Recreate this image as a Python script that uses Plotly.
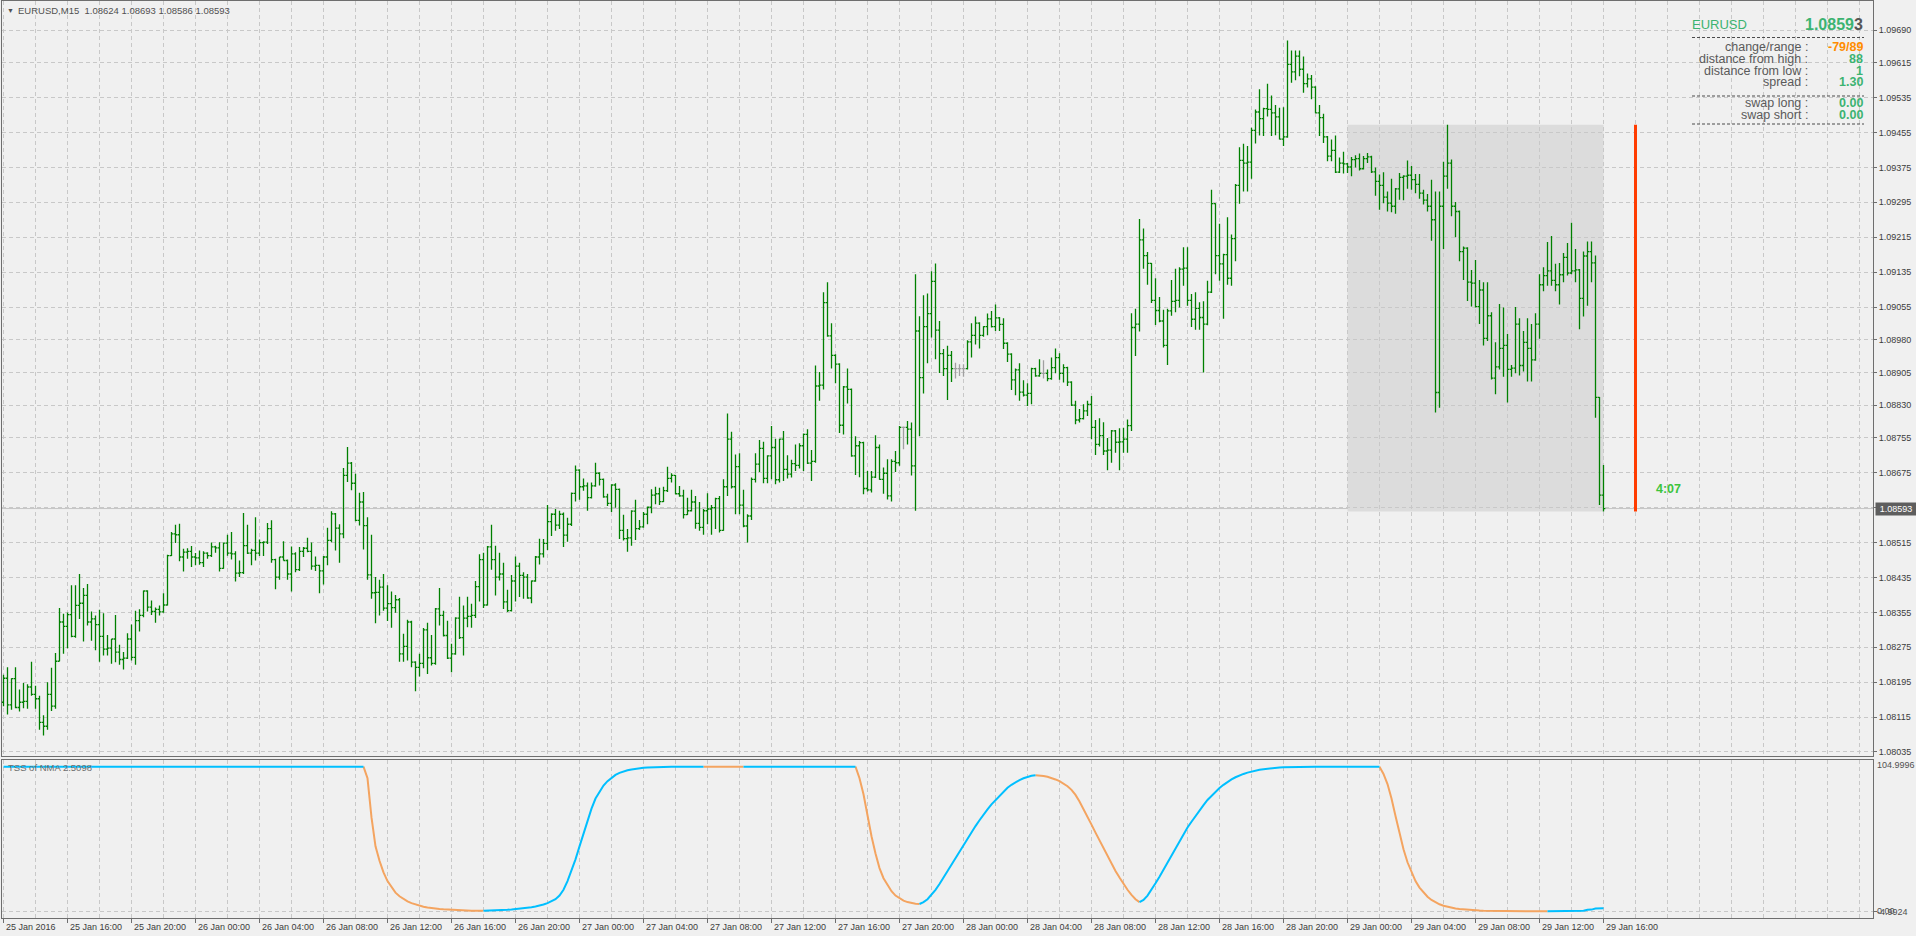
import plotly.graph_objects as go

# ---------------- data ----------------
symbol = "EURUSD"
timeframe = "M15"

bar_open = [
1.08149,1.08204,1.08143,1.08203,1.08137,1.08149,1.08151,1.08184,1.08167,1.08157,
1.08103,1.08094,1.08167,1.08140,1.08243,1.08333,1.08323,1.08350,1.08300,1.08371,
1.08376,1.08394,1.08333,1.08340,1.08327,1.08300,1.08271,1.08273,1.08294,1.08264,
1.08247,1.08250,1.08294,1.08252,1.08336,1.08348,1.08404,1.08367,1.08357,1.08362,
1.08356,1.08372,1.08485,1.08535,1.08533,1.08482,1.08493,1.08495,1.08482,1.08480,
1.08469,1.08491,1.08485,1.08505,1.08503,1.08456,1.08514,1.08491,1.08489,1.08445,
1.08446,1.08508,1.08491,1.08497,1.08491,1.08515,1.08516,1.08547,1.08476,1.08436,
1.08482,1.08474,1.08443,1.08489,1.08453,1.08495,1.08502,1.08495,1.08461,1.08463,
1.08450,1.08482,1.08520,1.08581,1.08548,1.08535,1.08669,1.08697,1.08651,1.08566,
1.08608,1.08554,1.08441,1.08400,1.08401,1.08413,1.08365,1.08375,1.08366,1.08384,
1.08260,1.08277,1.08333,1.08241,1.08229,1.08238,1.08315,1.08251,1.08238,1.08363,
1.08348,1.08302,1.08250,1.08260,1.08342,1.08297,1.08342,1.08346,1.08348,1.08414,
1.08476,1.08372,1.08505,1.08476,1.08436,1.08443,1.08379,1.08359,1.08427,1.08461,
1.08440,1.08436,1.08388,1.08427,1.08482,1.08489,1.08513,1.08563,1.08580,1.08555,
1.08580,1.08532,1.08557,1.08628,1.08681,1.08643,1.08645,1.08618,1.08645,1.08674,
1.08660,1.08620,1.08605,1.08647,1.08637,1.08543,1.08524,1.08526,1.08587,1.08547,
1.08551,1.08580,1.08596,1.08624,1.08627,1.08609,1.08634,1.08662,1.08669,1.08627,
1.08622,1.08579,1.08588,1.08608,1.08559,1.08550,1.08588,1.08592,1.08595,1.08616,
1.08543,1.08643,1.08752,1.08643,1.08689,1.08601,1.08553,1.08576,1.08660,1.08695,
1.08731,1.08662,1.08714,1.08733,1.08659,1.08752,1.08683,1.08672,1.08696,1.08692,
1.08737,1.08763,1.08697,1.08701,1.08874,1.08876,1.09065,1.08989,1.08944,1.08924,
1.08784,1.08872,1.08866,1.08714,1.08737,1.08744,1.08639,1.08636,1.08665,1.08733,
1.08660,1.08674,1.08622,1.08701,1.08698,1.08779,1.08779,1.08775,1.08691,1.09000,
1.08893,1.09010,1.09040,1.09114,1.09002,1.08948,1.08914,1.08944,1.08914,1.08914,
1.08914,1.08914,1.08975,1.08990,1.09018,1.08990,1.09010,1.09028,1.09010,1.09030,
1.09015,1.08972,1.08947,1.08888,1.08911,1.08860,1.08853,1.08857,1.08914,1.08897,
1.08903,1.08903,1.08891,1.08916,1.08939,1.08903,1.08916,1.08883,1.08830,1.08796,
1.08799,1.08817,1.08832,1.08779,1.08740,1.08760,1.08725,1.08727,1.08771,1.08745,
1.08746,1.08752,1.08783,1.09008,1.09016,1.09209,1.09173,1.09155,1.09070,1.09047,
1.09023,1.08967,1.09046,1.09068,1.09070,1.09142,1.09144,1.09070,1.09027,1.09052,
1.09031,1.09016,1.09089,1.09292,1.09173,1.09154,1.09175,1.09121,1.09212,1.09334,
1.09391,1.09385,1.09387,1.09460,1.09502,1.09487,1.09510,1.09508,1.09500,1.09491,
1.09440,1.09445,1.09611,1.09594,1.09630,1.09600,1.09567,1.09578,1.09559,1.09500,
1.09489,1.09445,1.09401,1.09414,1.09364,1.09385,1.09383,1.09376,1.09393,1.09395,
1.09372,1.09395,1.09399,1.09365,1.09343,1.09334,1.09307,1.09293,1.09286,1.09326,
1.09352,1.09355,1.09357,1.09347,1.09336,1.09316,1.09300,1.09286,1.09255,1.08859,
1.09286,1.09355,1.09385,1.09286,1.09274,1.09182,1.09190,1.09112,1.09110,1.09056,
1.09094,1.08983,1.09035,1.08892,1.08918,1.08960,1.08967,1.08912,1.08915,1.09016,
1.08921,1.08974,1.08960,1.08934,1.09016,1.09106,1.09127,1.09138,1.09116,1.09106,
1.09129,1.09169,1.09133,1.09138,1.09140,1.09075,1.09172,1.09182,1.09156,1.08848,
1.08624]

bar_high = [
1.08212,1.08229,1.08204,1.08229,1.08178,1.08193,1.08190,1.08242,1.08187,1.08164,
1.08119,1.08195,1.08228,1.08262,1.08365,1.08352,1.08355,1.08417,1.08417,1.08443,
1.08411,1.08420,1.08357,1.08348,1.08361,1.08353,1.08303,1.08294,1.08349,1.08281,
1.08264,1.08307,1.08327,1.08359,1.08362,1.08405,1.08406,1.08382,1.08366,1.08371,
1.08399,1.08487,1.08539,1.08556,1.08558,1.08501,1.08502,1.08507,1.08491,1.08497,
1.08495,1.08493,1.08515,1.08508,1.08516,1.08515,1.08533,1.08539,1.08495,1.08474,
1.08583,1.08556,1.08501,1.08573,1.08522,1.08518,1.08560,1.08566,1.08478,1.08482,
1.08518,1.08476,1.08506,1.08493,1.08505,1.08505,1.08526,1.08515,1.08483,1.08464,
1.08484,1.08549,1.08587,1.08583,1.08557,1.08686,1.08734,1.08700,1.08673,1.08629,
1.08631,1.08573,1.08533,1.08436,1.08430,1.08443,1.08417,1.08403,1.08395,1.08388,
1.08306,1.08338,1.08336,1.08243,1.08260,1.08319,1.08331,1.08303,1.08365,1.08411,
1.08359,1.08336,1.08283,1.08344,1.08391,1.08371,1.08391,1.08375,1.08427,1.08488,
1.08492,1.08507,1.08556,1.08508,1.08492,1.08469,1.08407,1.08441,1.08483,1.08469,
1.08447,1.08443,1.08428,1.08484,1.08524,1.08523,1.08601,1.08582,1.08592,1.08588,
1.08584,1.08572,1.08630,1.08692,1.08683,1.08662,1.08653,1.08653,1.08698,1.08676,
1.08662,1.08627,1.08649,1.08651,1.08639,1.08579,1.08546,1.08589,1.08613,1.08567,
1.08585,1.08598,1.08637,1.08643,1.08641,1.08643,1.08689,1.08674,1.08670,1.08645,
1.08636,1.08618,1.08636,1.08622,1.08608,1.08592,1.08628,1.08601,1.08618,1.08622,
1.08660,1.08811,1.08769,1.08717,1.08720,1.08636,1.08580,1.08664,1.08720,1.08750,
1.08746,1.08715,1.08782,1.08753,1.08753,1.08771,1.08715,1.08705,1.08740,1.08743,
1.08765,1.08775,1.08727,1.08921,1.08906,1.09089,1.09112,1.09018,1.08947,1.08926,
1.08874,1.08914,1.08868,1.08759,1.08748,1.08746,1.08679,1.08679,1.08761,1.08740,
1.08687,1.08706,1.08706,1.08725,1.08782,1.08781,1.08794,1.08790,1.09130,1.09034,
1.09082,1.09086,1.09137,1.09155,1.09023,1.08959,1.08966,1.08954,1.08927,1.08924,
1.08924,1.08979,1.09018,1.09033,1.09020,1.09011,1.09040,1.09046,1.09061,1.09032,
1.09029,1.08974,1.08949,1.08914,1.08926,1.08887,1.08880,1.08916,1.08916,1.08935,
1.08933,1.08912,1.08939,1.08960,1.08949,1.08924,1.08918,1.08885,1.08840,1.08821,
1.08832,1.08840,1.08851,1.08796,1.08800,1.08791,1.08755,1.08773,1.08773,1.08777,
1.08778,1.08797,1.09041,1.09051,1.09257,1.09235,1.09181,1.09156,1.09121,1.09078,
1.09049,1.09051,1.09117,1.09143,1.09146,1.09192,1.09192,1.09085,1.09089,1.09066,
1.09068,1.09115,1.09324,1.09293,1.09246,1.09177,1.09261,1.09221,1.09337,1.09421,
1.09429,1.09424,1.09466,1.09508,1.09554,1.09512,1.09567,1.09540,1.09518,1.09512,
1.09513,1.09666,1.09643,1.09643,1.09643,1.09629,1.09590,1.09587,1.09561,1.09518,
1.09498,1.09447,1.09439,1.09448,1.09398,1.09411,1.09385,1.09399,1.09403,1.09407,
1.09401,1.09408,1.09402,1.09375,1.09359,1.09364,1.09320,1.09349,1.09328,1.09362,
1.09357,1.09391,1.09378,1.09360,1.09360,1.09324,1.09314,1.09347,1.09320,1.09320,
1.09388,1.09473,1.09393,1.09296,1.09276,1.09194,1.09192,1.09140,1.09163,1.09117,
1.09112,1.09112,1.09043,1.08974,1.09062,1.09054,1.08993,1.08922,1.09055,1.09029,
1.09000,1.09029,1.09016,1.09041,1.09130,1.09146,1.09204,1.09218,1.09154,1.09156,
1.09179,1.09202,1.09248,1.09188,1.09142,1.09182,1.09205,1.09205,1.09173,1.08849,
1.08693]

bar_low = [
1.08140,1.08121,1.08132,1.08135,1.08128,1.08135,1.08134,1.08164,1.08134,1.08086,
1.08073,1.08086,1.08129,1.08134,1.08243,1.08260,1.08273,1.08298,1.08297,1.08340,
1.08288,1.08325,1.08290,1.08268,1.08242,1.08256,1.08256,1.08237,1.08241,1.08235,
1.08224,1.08248,1.08245,1.08235,1.08311,1.08344,1.08357,1.08349,1.08331,1.08348,
1.08354,1.08371,1.08484,1.08514,1.08472,1.08449,1.08478,1.08459,1.08463,1.08464,
1.08459,1.08478,1.08482,1.08492,1.08449,1.08455,1.08485,1.08476,1.08426,1.08436,
1.08443,1.08489,1.08463,1.08474,1.08484,1.08484,1.08512,1.08469,1.08408,1.08430,
1.08474,1.08430,1.08403,1.08447,1.08450,1.08482,1.08493,1.08453,1.08450,1.08399,
1.08419,1.08463,1.08516,1.08497,1.08469,1.08525,1.08654,1.08635,1.08564,1.08554,
1.08499,1.08430,1.08386,1.08330,1.08348,1.08359,1.08335,1.08320,1.08354,1.08242,
1.08242,1.08245,1.08229,1.08174,1.08208,1.08227,1.08214,1.08233,1.08235,1.08325,
1.08300,1.08248,1.08218,1.08258,1.08294,1.08256,1.08321,1.08320,1.08342,1.08380,
1.08365,1.08371,1.08453,1.08394,1.08428,1.08363,1.08356,1.08357,1.08380,1.08390,
1.08386,1.08386,1.08376,1.08425,1.08465,1.08481,1.08498,1.08530,1.08542,1.08546,
1.08505,1.08517,1.08553,1.08609,1.08613,1.08634,1.08588,1.08616,1.08643,1.08646,
1.08618,1.08599,1.08585,1.08595,1.08523,1.08520,1.08494,1.08508,1.08521,1.08544,
1.08549,1.08557,1.08582,1.08603,1.08601,1.08608,1.08631,1.08653,1.08626,1.08620,
1.08570,1.08578,1.08586,1.08547,1.08542,1.08533,1.08557,1.08533,1.08546,1.08538,
1.08542,1.08622,1.08639,1.08580,1.08580,1.08550,1.08515,1.08567,1.08653,1.08677,
1.08651,1.08651,1.08660,1.08649,1.08653,1.08656,1.08662,1.08664,1.08679,1.08685,
1.08679,1.08695,1.08656,1.08698,1.08840,1.08866,1.08987,1.08914,1.08880,1.08766,
1.08763,1.08834,1.08712,1.08670,1.08665,1.08626,1.08632,1.08630,1.08663,1.08659,
1.08627,1.08614,1.08609,1.08677,1.08691,1.08729,1.08740,1.08669,1.08588,1.08759,
1.08857,1.08926,1.08985,1.08935,1.08904,1.08897,1.08842,1.08883,1.08891,1.08897,
1.08895,1.08912,1.08939,1.08969,1.08960,1.08987,1.08990,1.09008,1.09000,1.09000,
1.08959,1.08929,1.08865,1.08853,1.08840,1.08850,1.08828,1.08832,1.08895,1.08895,
1.08891,1.08885,1.08888,1.08903,1.08888,1.08882,1.08874,1.08828,1.08786,1.08790,
1.08797,1.08805,1.08752,1.08716,1.08735,1.08716,1.08681,1.08698,1.08721,1.08681,
1.08721,1.08721,1.08771,1.08943,1.08999,1.09143,1.09106,1.09064,1.09014,1.09020,
1.08962,1.08922,1.09035,1.09043,1.09054,1.09104,1.09058,1.09009,1.09003,1.09003,
1.08905,1.09013,1.09087,1.09130,1.09115,1.09028,1.09106,1.09104,1.09160,1.09292,
1.09320,1.09320,1.09349,1.09430,1.09448,1.09447,1.09492,1.09447,1.09449,1.09439,
1.09424,1.09443,1.09569,1.09575,1.09584,1.09546,1.09558,1.09531,1.09499,1.09447,
1.09431,1.09389,1.09389,1.09362,1.09362,1.09361,1.09362,1.09355,1.09375,1.09368,
1.09370,1.09385,1.09362,1.09310,1.09278,1.09293,1.09274,1.09272,1.09269,1.09301,
1.09300,1.09326,1.09324,1.09316,1.09303,1.09290,1.09274,1.09207,1.08813,1.08824,
1.09188,1.09326,1.09263,1.09215,1.09160,1.09117,1.09069,1.09056,1.09054,1.09016,
1.08967,1.08977,1.08889,1.08855,1.08912,1.08895,1.08836,1.08895,1.08903,1.08898,
1.08907,1.08884,1.08884,1.08932,1.08982,1.09091,1.09104,1.09104,1.09091,1.09061,
1.09112,1.09127,1.09130,1.09112,1.09004,1.09033,1.09058,1.09112,1.08801,1.08601,
1.08586]

bar_close = [
1.08204,1.08143,1.08203,1.08137,1.08149,1.08151,1.08184,1.08167,1.08157,1.08103,
1.08094,1.08167,1.08140,1.08243,1.08333,1.08323,1.08350,1.08300,1.08371,1.08376,
1.08394,1.08333,1.08340,1.08327,1.08300,1.08271,1.08273,1.08294,1.08264,1.08247,
1.08250,1.08294,1.08252,1.08336,1.08348,1.08404,1.08367,1.08357,1.08362,1.08356,
1.08372,1.08485,1.08535,1.08533,1.08482,1.08493,1.08495,1.08482,1.08480,1.08469,
1.08491,1.08485,1.08505,1.08503,1.08456,1.08514,1.08491,1.08489,1.08445,1.08446,
1.08508,1.08491,1.08497,1.08491,1.08515,1.08516,1.08547,1.08476,1.08436,1.08482,
1.08474,1.08443,1.08489,1.08453,1.08495,1.08502,1.08495,1.08461,1.08463,1.08450,
1.08482,1.08520,1.08581,1.08548,1.08535,1.08669,1.08697,1.08651,1.08566,1.08608,
1.08554,1.08441,1.08400,1.08401,1.08413,1.08365,1.08375,1.08366,1.08384,1.08260,
1.08277,1.08333,1.08241,1.08229,1.08238,1.08315,1.08251,1.08238,1.08363,1.08348,
1.08302,1.08250,1.08260,1.08342,1.08297,1.08342,1.08346,1.08348,1.08414,1.08476,
1.08372,1.08505,1.08476,1.08436,1.08443,1.08379,1.08359,1.08427,1.08461,1.08440,
1.08436,1.08388,1.08427,1.08482,1.08489,1.08513,1.08563,1.08580,1.08555,1.08580,
1.08532,1.08557,1.08628,1.08681,1.08643,1.08645,1.08618,1.08645,1.08674,1.08660,
1.08620,1.08605,1.08647,1.08637,1.08543,1.08524,1.08526,1.08587,1.08547,1.08551,
1.08580,1.08596,1.08624,1.08627,1.08609,1.08634,1.08662,1.08669,1.08627,1.08622,
1.08579,1.08588,1.08608,1.08559,1.08550,1.08588,1.08592,1.08595,1.08616,1.08543,
1.08643,1.08752,1.08643,1.08689,1.08601,1.08553,1.08576,1.08660,1.08695,1.08731,
1.08662,1.08714,1.08733,1.08659,1.08752,1.08683,1.08672,1.08696,1.08692,1.08737,
1.08763,1.08697,1.08701,1.08874,1.08876,1.09065,1.08989,1.08944,1.08924,1.08784,
1.08872,1.08866,1.08714,1.08737,1.08744,1.08639,1.08636,1.08665,1.08733,1.08660,
1.08674,1.08622,1.08701,1.08698,1.08779,1.08779,1.08775,1.08691,1.09000,1.08893,
1.09010,1.09040,1.09114,1.09002,1.08948,1.08914,1.08944,1.08914,1.08914,1.08914,
1.08914,1.08975,1.08990,1.09018,1.08990,1.09010,1.09028,1.09010,1.09030,1.09015,
1.08972,1.08947,1.08888,1.08911,1.08860,1.08853,1.08857,1.08914,1.08897,1.08903,
1.08903,1.08891,1.08916,1.08939,1.08903,1.08916,1.08883,1.08830,1.08796,1.08799,
1.08817,1.08832,1.08779,1.08740,1.08760,1.08725,1.08727,1.08771,1.08745,1.08746,
1.08752,1.08783,1.09008,1.09016,1.09209,1.09173,1.09155,1.09070,1.09047,1.09023,
1.08967,1.09046,1.09068,1.09070,1.09142,1.09144,1.09070,1.09027,1.09052,1.09031,
1.09016,1.09089,1.09292,1.09173,1.09154,1.09175,1.09121,1.09212,1.09334,1.09391,
1.09385,1.09387,1.09460,1.09502,1.09487,1.09510,1.09508,1.09500,1.09491,1.09440,
1.09445,1.09611,1.09594,1.09630,1.09600,1.09567,1.09578,1.09559,1.09500,1.09489,
1.09445,1.09401,1.09414,1.09364,1.09385,1.09383,1.09376,1.09393,1.09395,1.09372,
1.09395,1.09399,1.09365,1.09343,1.09334,1.09307,1.09293,1.09286,1.09326,1.09352,
1.09355,1.09357,1.09347,1.09336,1.09316,1.09300,1.09286,1.09255,1.08859,1.09286,
1.09355,1.09385,1.09286,1.09274,1.09182,1.09190,1.09112,1.09110,1.09056,1.09094,
1.08983,1.09035,1.08892,1.08918,1.08960,1.08967,1.08912,1.08915,1.09016,1.08921,
1.08974,1.08960,1.08934,1.09016,1.09106,1.09127,1.09138,1.09116,1.09106,1.09129,
1.09169,1.09133,1.09138,1.09140,1.09075,1.09172,1.09182,1.09156,1.08848,1.08624,
1.08593]

# TSS of NMA indicator value per bar
tss_values = [
100,100,100,100,100,100,100,100,100,100,
100,100,100,100,100,100,100,100,100,100,
100,100,100,100,100,100,100,100,100,100,
100,100,100,100,100,100,100,100,100,100,
100,100,100,100,100,100,100,100,100,100,
100,100,100,100,100,100,100,100,100,100,
100,100,100,100,100,100,100,100,100,100,
100,100,100,100,100,100,100,100,100,100,
100,100,100,100,100,100,100,100,100,100,
100,92,65,45,35,27,21,17,13,10.5,
8.5,7,5.8,4.8,4,3.3,2.8,2.3,2.0,1.7,
1.5,1.3,1.15,1.0,0.9,0.8,0.7,0.6,0.55,0.5,
0.45,0.5,0.6,0.7,0.8,1.0,1.2,1.4,1.6,1.9,
2.2,2.5,2.9,3.4,4.0,4.8,5.8,7.0,8.5,11,
15,21,28,36,45,54,63,71,78,83,
87,90,92.5,94.3,95.7,96.7,97.5,98.1,98.6,98.95,
99.2,99.4,99.55,99.65,99.75,99.8,99.85,99.9,99.93,99.95,
99.97,99.98,99.99,99.995,100,100,99.99,99.98,99.97,99.96,
99.95,99.94,99.93,99.92,99.91,99.9,99.92,99.94,99.96,99.98,
99.99,100,100,100,100,100,100,100,100,100,
100,100,100,100,100,100,100,100,100,100,
100,100,100,100,92,81,66,52,40,30,
23,18,14,11,9,7.5,6.5,5.8,5.4,5.2,
6.5,8.5,11.5,15,19,23.5,28,32.5,37,41.5,
46,50.5,55,59,63,67,70.5,74,77,80,
83,85.5,87.5,89.3,90.8,92,93,93.7,94.1,94.0,
93.6,93.0,92.2,91.2,90.0,88.5,86.5,84,80.5,76,
71,65.5,60,54.5,49,43.5,38,33,28,23.5,
19,15,11.5,8.5,6.5,8,11,15,19.5,24,
29,34,39,44,49,53.5,58,62,66,70,
73.5,77,80,82.8,85.3,87.5,89.5,91.2,92.7,94,
95,95.9,96.7,97.3,97.9,98.3,98.7,99.0,99.25,99.45,
99.6,99.7,99.8,99.85,99.9,99.93,99.95,99.97,99.98,99.99,
100,100,100,100,100,100,100,100,100,100,
100,100,100,100,100,95,88,78,66,54,
43,34,27,21,16.5,13,10.2,8,6.3,5,
4,3.2,2.6,2.1,1.7,1.4,1.15,0.95,0.8,0.68,
0.58,0.5,0.44,0.39,0.35,0.32,0.29,0.27,0.25,0.23,
0.21,0.2,0.19,0.18,0.17,0.16,0.15,0.2,0.25,0.3,
0.35,0.4,0.45,0.5,0.55,0.6,1.2,1.3,2.0,2.1,
2.2]

price_ticks = [1.09690, 1.09615, 1.09535, 1.09455, 1.09375, 1.09295, 1.09215, 1.09135,
               1.09055, 1.08980, 1.08905, 1.08830, 1.08755, 1.08675, 1.08595, 1.08515,
               1.08435, 1.08355, 1.08275, 1.08195, 1.08115, 1.08035]
hidden_tick = 1.08595  # covered by the bid label

time_labels = ["25 Jan 2016", "25 Jan 16:00", "25 Jan 20:00", "26 Jan 00:00", "26 Jan 04:00",
               "26 Jan 08:00", "26 Jan 12:00", "26 Jan 16:00", "26 Jan 20:00", "27 Jan 00:00",
               "27 Jan 04:00", "27 Jan 08:00", "27 Jan 12:00", "27 Jan 16:00", "27 Jan 20:00",
               "28 Jan 00:00", "28 Jan 04:00", "28 Jan 08:00", "28 Jan 12:00", "28 Jan 16:00",
               "28 Jan 20:00", "29 Jan 00:00", "29 Jan 04:00", "29 Jan 08:00", "29 Jan 12:00",
               "29 Jan 16:00"]
bars_per_label = 16
bars_per_grid = 8

bid = 1.08593
day_high = 1.09473
day_low = 1.08586
day_start_bar = 336
timer_bar = 408
timer_text = "4:07"

info_labels = ["change/range", "distance from high", "distance from low", "spread"]
info_values = ["-79/89", "88", "1", "1.30"]
swap_labels = ["swap long", "swap short"]
swap_values = ["0.00", "0.00"]

indicator_name = "TSS of NMA 2.5098"
indicator_top_label = "104.9996"
indicator_level_label = "0.00"
indicator_bottom_label = "-4.9924"

# ---------------- styling / layout ----------------
FONT = "Liberation Sans"
BG = "#f0f0f0"
GRID = "#c8c8c8"
BORDER = "#6e6e6e"
AXTXT = "#3c3c3c"
BAR_GREEN = "#008000"
DOJI_GRAY = "#a0a0a0"
BLUE = "#00bfff"
ORANGE = "#f4a460"
SEAGREEN = "#3cb371"
DASH = "4px,3px"

W, H = 1916, 936
ML, MR, MT, MB = 2, 43, 1, 18
PW, PH = W - ML - MR, H - MT - MB


def fx(px):
    return (px - ML) / PW


def fy(py):
    return (H - MB - py) / PH


# price <-> pixel calibration of the main pane (1.09690 at y=30, 43625 px per unit)
PX_PER_UNIT = 43625.0
y_top = 1.09690 + (30 - MT) / PX_PER_UNIT
y_bot = 1.09690 - (756 - 30) / PX_PER_UNIT
x_lo = -0.375
x_hi = x_lo + PW / 4.0

n = len(bar_close)
idx = list(range(n))
is_doji = [bar_open[i] == bar_close[i] for i in idx]

fig = go.Figure()


def ohlc_trace(ids, color):
    return go.Ohlc(
        x=ids,
        open=[bar_open[i] for i in ids], high=[bar_high[i] for i in ids],
        low=[bar_low[i] for i in ids], close=[bar_close[i] for i in ids],
        increasing=dict(line=dict(color=color, width=1.3)),
        decreasing=dict(line=dict(color=color, width=1.3)),
        tickwidth=0.45, hoverinfo="skip", showlegend=False, xaxis="x", yaxis="y")


fig.add_trace(ohlc_trace([i for i in idx if not is_doji[i]], BAR_GREEN))
fig.add_trace(ohlc_trace([i for i in idx if is_doji[i]], DOJI_GRAY))


def seg_xy(want_down):
    xs, ys = [], []
    prev = False
    for i in range(1, len(tss_values)):
        down = tss_values[i] < tss_values[i - 1]
        if down == want_down:
            if not prev:
                if xs:
                    xs.append(None)
                    ys.append(None)
                xs.append(i - 1)
                ys.append(tss_values[i - 1])
            xs.append(i)
            ys.append(tss_values[i])
            prev = True
        else:
            prev = False
    return xs, ys


for down, col in ((True, ORANGE), (False, BLUE)):
    sx, sy = seg_xy(down)
    fig.add_trace(go.Scatter(x=sx, y=sy, mode="lines", line=dict(color=col, width=2),
                             hoverinfo="skip", showlegend=False, xaxis="x2", yaxis="y2",
                             connectgaps=False))

grid_common = dict(gridcolor=GRID, griddash=DASH, gridwidth=1)

fig.update_layout(
    width=W, height=H,
    margin=dict(l=ML, r=MR, t=MT, b=MB, pad=0),
    paper_bgcolor=BG, plot_bgcolor=BG,
    font=dict(family=FONT, size=9, color=AXTXT),
    showlegend=False,
    xaxis=dict(domain=[0, 1], anchor="y", range=[x_lo, x_hi], tickmode="linear", tick0=0,
               dtick=bars_per_grid, showticklabels=False, ticks="", showgrid=True, **grid_common,
               showline=True, linecolor=BORDER, linewidth=1, mirror=True, zeroline=False,
               rangeslider=dict(visible=False), fixedrange=True),
    yaxis=dict(domain=[fy(756), 1], anchor="x", side="right", range=[y_bot, y_top],
               tickmode="array", tickvals=price_ticks,
               ticktext=["" if v == hidden_tick else f"{v:.5f}" for v in price_ticks],
               ticks="outside", ticklen=3, tickcolor=BORDER, tickfont=dict(size=9, color=AXTXT),
               showgrid=True, **grid_common, showline=True, linecolor=BORDER, linewidth=1,
               mirror=True, zeroline=False, fixedrange=True),
    xaxis2=dict(domain=[0, 1], anchor="y2", range=[x_lo, x_hi],
                tickmode="array", tickvals=[k * bars_per_label for k in range(len(time_labels))],
                showticklabels=False, ticks="outside", ticklen=4, tickcolor=BORDER,
                showgrid=True, **grid_common,
                minor=dict(tickmode="linear", tick0=0, dtick=bars_per_grid, showgrid=True, ticks="",
                           gridcolor=GRID, griddash=DASH, gridwidth=1),
                showline=True, linecolor=BORDER, linewidth=1, mirror=True, zeroline=False,
                rangeslider=dict(visible=False), fixedrange=True),
    yaxis2=dict(domain=[0, fy(759.5)], anchor="x2", side="right", range=[-4.49, 104.97],
                tickmode="array", tickvals=[0], showticklabels=False, ticks="outside",
                ticklen=3, tickcolor=BORDER, showgrid=True, **grid_common,
                showline=True, linecolor=BORDER, linewidth=1, mirror=True, zeroline=False,
                fixedrange=True),
)

shapes = []
# today's range rectangle
shapes.append(dict(type="rect", xref="x", yref="y", x0=day_start_bar, x1=n - 1,
                   y0=day_low, y1=day_high, fillcolor="#dcdcdc", line=dict(width=0),
                   layer="below"))
# bid line
shapes.append(dict(type="line", xref="x domain", yref="y", x0=0, x1=1, y0=bid, y1=bid,
                   line=dict(color="#c4c4c4", width=1), layer="below"))
# timer / range red line
shapes.append(dict(type="line", xref="x", yref="y", x0=timer_bar, x1=timer_bar,
                   y0=day_low, y1=day_high, line=dict(color="#ff3c00", width=3)))
# info panel separators
for yy in (37.5, 96, 124):
    shapes.append(dict(type="line", xref="paper", yref="paper", x0=fx(1692), x1=fx(1864),
                       y0=fy(yy), y1=fy(yy), line=dict(color="#4a4a4a", width=1, dash="3px,2px")))

ann = []


def text(t, x, y, size, color, xanchor="left", bold=False, **kw):
    d = dict(text=f"<b>{t}</b>" if bold else t, x=fx(x), y=fy(y), xref="paper", yref="paper",
             xanchor=xanchor, yanchor="middle", showarrow=False, borderpad=0,
             font=dict(family=FONT, size=size, color=color))
    d.update(kw)
    ann.append(d)


# top-left title
text("\u25bc", 10, 11, 7, "#505050", xanchor="center")
title = (f"{symbol},{timeframe}\u00a0 {bar_open[-1]:.5f} {bar_high[-1]:.5f} "
         f"{bar_low[-1]:.5f} {bar_close[-1]:.5f}")
text(title, 17, 11, 9.5, "#505050")

# info panel
text(symbol, 1691, 25, 13, SEAGREEN)
bs = f"{bid:.5f}"
text(f"{bs[:-1]}<span style='color:#555555'>{bs[-1]}</span>", 1864, 25, 16, SEAGREEN,
     xanchor="right", bold=True)
rows_y = [46.7, 58.9, 70.7, 82.3]
for lab, val, yy in zip(info_labels, info_values, rows_y):
    text(lab + "\u00a0:", 1809, yy, 12.5, "#5a5a5a", xanchor="right")
    text(val, 1864, yy, 12.5, "#ff8c00" if "/" in val else SEAGREEN, xanchor="right", bold=True)
for lab, val, yy in zip(swap_labels, swap_values, [103.0, 115.2]):
    text(lab + "\u00a0:", 1809, yy, 12.5, "#5a5a5a", xanchor="right")
    text(val, 1864, yy, 12.5, SEAGREEN, xanchor="right", bold=True)

# timer text
text(timer_text, 1668, 489, 12.5, "#3cc43c", xanchor="center", bold=True)

# bid price label
ann.append(dict(text=f"{bid:.5f}", x=fx(1875), y=fy(509.5), xref="paper", yref="paper",
                xanchor="left", yanchor="middle", showarrow=False, width=40, height=12,
                align="center", bgcolor="#5e5e5e", borderpad=0,
                font=dict(family=FONT, size=9, color="#ffffff")))

# indicator labels
text(indicator_name, 7, 767, 9.5, "#6e6e6e")
text(indicator_top_label, 1876, 765, 9, "#505050")
text(indicator_level_label, 1876, 911, 9, "#505050")
text(indicator_bottom_label, 1876, 911.5, 9, "#505050")

# time labels (left-aligned at their tick like MetaTrader)
for k, lab in enumerate(time_labels):
    xpix = ML + (k * bars_per_label - x_lo) * 4.0
    text(lab, xpix + 1.5, 927, 9, AXTXT)

fig.update_layout(shapes=shapes, annotations=ann)

fig.write_html("out.html", include_plotlyjs=True, full_html=True,
               config={"displayModeBar": False, "staticPlot": True},
               post_script="document.body.style.margin='0';document.body.style.overflow='hidden';")
